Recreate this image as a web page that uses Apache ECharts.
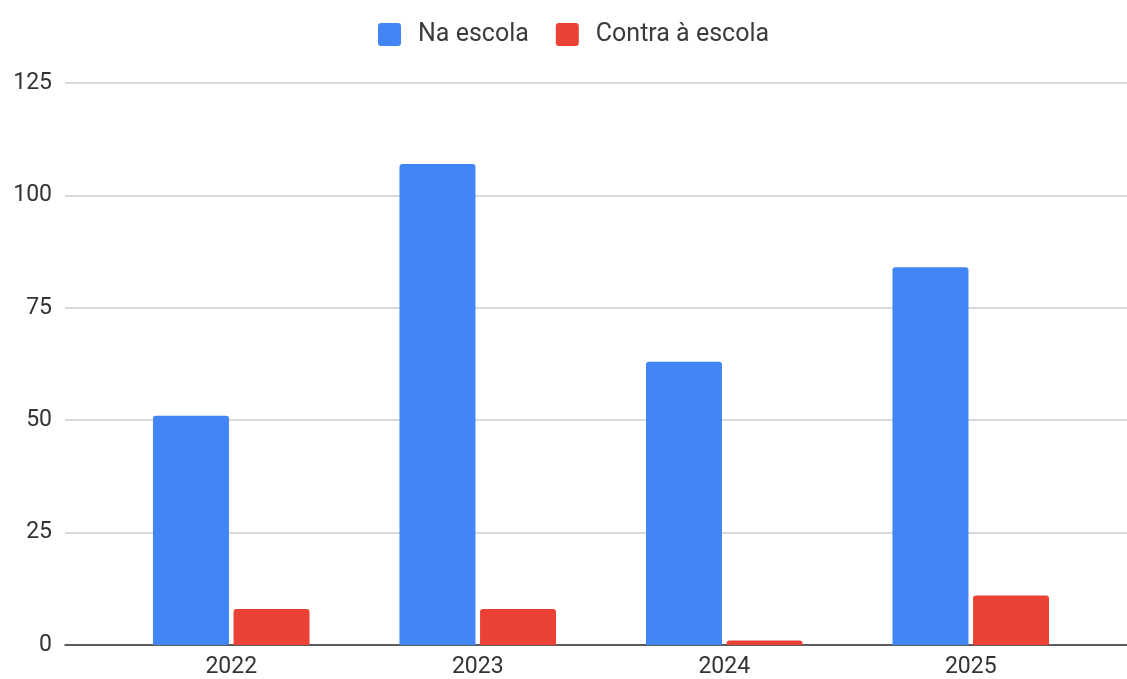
<!DOCTYPE html>
<html>
<head>
<meta charset="utf-8">
<script src="https://cdn.jsdelivr.net/npm/echarts@6/dist/echarts.min.js"></script>
<style>
  html, body { margin: 0; padding: 0; background: #fff; }
  #chart { width: 1127px; height: 679px; }
</style>
</head>
<body>
<div id="chart"></div>
<script>
const years = ['2022', '2023', '2024', '2025'];
const naEscola = [51, 107, 63, 84];
const contraEscola = [8, 8, 1, 11];
const yTicks = { min: 0, max: 125, interval: 25 };

// small-radius square for legend markers
const legendIcon = 'path://M3,0H20A3,3,0,0,1,23,3V20A3,3,0,0,1,20,23H3A3,3,0,0,1,0,20V3A3,3,0,0,1,3,0Z';

const chart = echarts.init(document.getElementById('chart'));
const option = {
    animation: false,
    textStyle: { fontFamily: 'Roboto' },
    legend: {
        top: 17,
        left: 373,
        icon: legendIcon,
        itemWidth: 23,
        itemHeight: 23,
        itemGap: 27,
        textStyle: { fontSize: 25, color: '#3c3c3c', padding: [0, 0, 0, 12] },
        data: ['Na escola', 'Contra à escola']
    },
    grid: [
        // background grid: gridlines and axis line span the full width
        { left: 65, right: 0, top: 83, bottom: 34 },
        // bars sit inside with some padding on both sides
        { left: 108, right: 33, top: 83, bottom: 34 }
    ],
    xAxis: [
        {
            gridIndex: 0, type: 'value', min: 0, max: 1,
            axisLabel: { show: false }, axisTick: { show: false }, splitLine: { show: false },
            axisLine: { show: true, lineStyle: { color: '#333', width: 1.5 } }
        },
        {
            gridIndex: 1, type: 'category', data: years,
            axisLine: { show: false }, axisTick: { show: false },
            axisLabel: { fontSize: 23, color: '#333', margin: 11 }
        }
    ],
    yAxis: [
        {
            gridIndex: 0, type: 'value',
            min: yTicks.min, max: yTicks.max, interval: yTicks.interval,
            axisLine: { show: false }, axisTick: { show: false },
            axisLabel: { fontSize: 23, color: '#333', margin: 13 },
            splitLine: { lineStyle: { color: '#ccc', width: 1.5 } }
        },
        {
            gridIndex: 1, type: 'value',
            min: yTicks.min, max: yTicks.max, interval: yTicks.interval,
            show: false
        }
    ],
    series: [
        {
            name: 'Na escola', type: 'bar', xAxisIndex: 1, yAxisIndex: 1,
            barWidth: 76, barGap: '6%',
            itemStyle: { color: '#4285F4', borderRadius: [3, 3, 0, 0] },
            data: naEscola
        },
        {
            name: 'Contra à escola', type: 'bar', xAxisIndex: 1, yAxisIndex: 1,
            barWidth: 76, barGap: '6%',
            itemStyle: { color: '#EA4335', borderRadius: [3, 3, 0, 0] },
            data: contraEscola
        }
    ]
};
option && chart.setOption(option);
</script>
</body>
</html>
